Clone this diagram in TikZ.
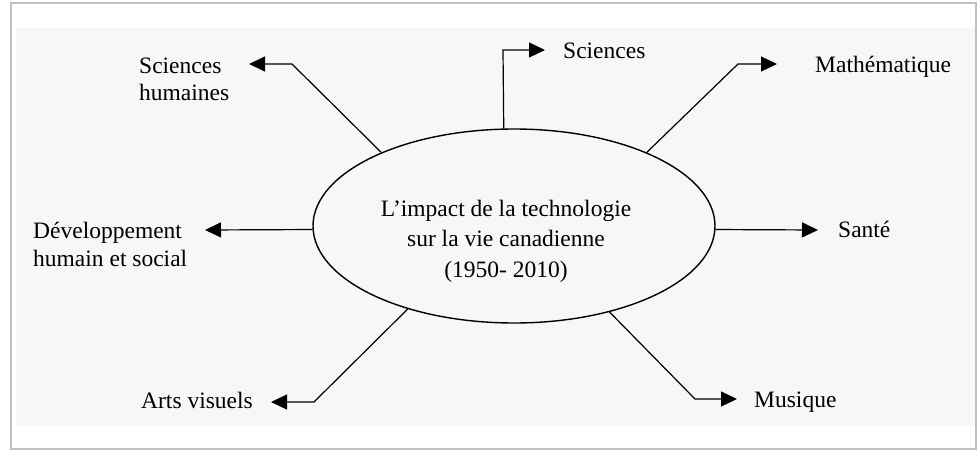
\documentclass[tikz,border=0pt]{standalone}
\usepackage{fontspec}
\setmainfont{Liberation Serif}
\usetikzlibrary{arrows.meta,shapes.geometric}
\definecolor{framegray}{RGB}{192,192,196}
\definecolor{panelbg}{RGB}{246,248,245}
\begin{document}
\begin{tikzpicture}[x=1pt, y=-1pt,
  hub/.style={draw, ellipse, line width=1.4pt, minimum width=402pt, minimum height=194pt, inner sep=0pt},
  lab/.style={font=\fontsize{23.5}{27}\selectfont, align=left, inner sep=0pt},
  spoke/.style={line width=1.2pt, -{Triangle[length=16pt,width=15pt]}}]
\useasboundingbox (0,0) rectangle (977,450);
\draw[framegray, line width=2pt] (11,3) rectangle (976,449);
\fill[panelbg] (16,28) rectangle (975,426);

\node[hub] (impact) at (514,226) {};
\node[font=\fontsize{23.5}{30.5}\selectfont, align=center, inner sep=0pt, anchor=base] (titre) at (506,277)
  {L’impact de la technologie\\ sur la vie canadienne\\ (1950- 2010)};

\node[lab, anchor=base west] (hum) at (139,100) {Sciences\\humaines};
\node[lab, anchor=base west] (sci) at (563,58) {Sciences};
\node[lab, anchor=base west] (math) at (815,72) {Mathématique};
\node[lab, anchor=base west] (sante) at (838,237) {Santé};
\node[lab, anchor=base west] (dev) at (33,266) {Développement\\[1pt]humain et social};
\node[lab, anchor=base east] (arts) at (253,408) {Arts visuels};
\node[lab, anchor=base west] (mus) at (754,407) {Musique};

\coordinate (bHum) at (292,64);  \coordinate (tHum) at (249,64);
\coordinate (bSci) at (503,50);  \coordinate (tSci) at (545,50);
\coordinate (bMath) at (738,64); \coordinate (tMath) at (777,64);
\coordinate (tSante) at (818,230);
\coordinate (bMus) at (695,399); \coordinate (tMus) at (737,399);
\coordinate (bArts) at (314,402); \coordinate (tArts) at (271,402);
\coordinate (tDev) at (205,230);

\foreach \a/\b/\t in {151/bHum/tHum, 96.5/bSci/tSci, 29/bMath/tMath, -42/bMus/tMus, -142.6/bArts/tArts}
  \draw[spoke] (impact.\a) -- (\b) -- (\t);
\draw[spoke] (impact.-1) -- (tSante);
\draw[spoke] (impact.181) -- (tDev);
\end{tikzpicture}
\end{document}
